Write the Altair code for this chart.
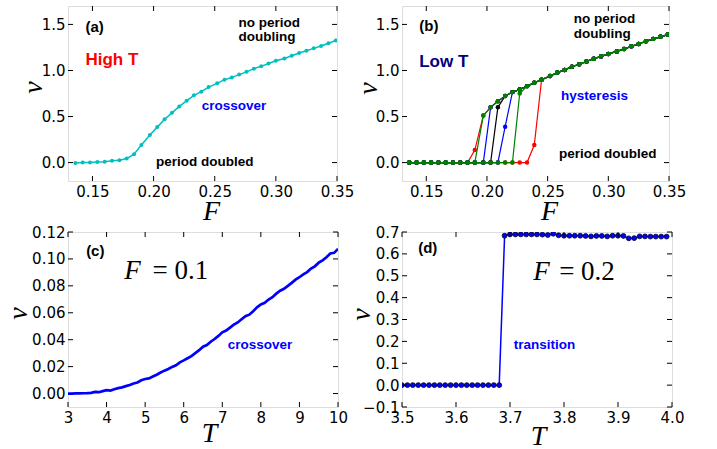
import altair as alt
import pandas as pd

# ---------------- data ----------------
F_GRID = [0.136, 0.142, 0.148, 0.154, 0.160, 0.166, 0.172, 0.178, 0.184, 0.190,
          0.197, 0.203, 0.209, 0.215, 0.221, 0.227, 0.233, 0.239, 0.245, 0.252,
          0.258, 0.264, 0.270, 0.276, 0.282, 0.288, 0.294, 0.300, 0.307, 0.313,
          0.319, 0.325, 0.331, 0.337, 0.343, 0.349]

# (a) high T
V_A = [-0.005, 0.0, 0.0, 0.005, 0.01, 0.02, 0.025, 0.045, 0.09, 0.19,
       0.30, 0.385, 0.47, 0.54, 0.61, 0.67, 0.73, 0.77, 0.82, 0.86,
       0.90, 0.925, 0.955, 0.985, 1.02, 1.045, 1.075, 1.105, 1.13, 1.16,
       1.19, 1.215, 1.24, 1.265, 1.295, 1.325]

# (b) low T : upper (running) branch for F_GRID[10:]
V_B_UPPER = [0.51, 0.60, 0.666, 0.724, 0.765, 0.794, 0.83, 0.867, 0.90, 0.94,
             0.977, 1.006, 1.04, 1.068, 1.097, 1.127, 1.153, 1.18, 1.207, 1.233,
             1.262, 1.288, 1.317, 1.343, 1.365, 1.39]
# sweeps: colour, name, last index on v=0 branch, transition values, first index on upper branch
B_SWEEPS = [
    ("red", "red up", 16, [0.19], 18),
    ("red", "red down", 8, [0.136], 10),
    ("blue", "blue up", 12, [0.39], 14),
    ("blue", "blue down", 10, [], 11),
    ("black", "black", 11, [0.60], 13),
    ("green", "green up", 14, [0.75], 16),
    ("green", "green down", 9, [], 10),
]
B_COLOURS = {"red": "#FF0000", "blue": "#0000FF", "black": "#000000", "green": "#008000"}

# (c) F = 0.1
T_C = [3.0, 3.1, 3.2, 3.3, 3.4, 3.5, 3.6, 3.7, 3.8, 3.9,
       4.0, 4.1, 4.2, 4.3, 4.4, 4.5, 4.6, 4.7, 4.8, 4.9,
       5.0, 5.1, 5.2, 5.3, 5.4, 5.5, 5.6, 5.7, 5.8, 5.9,
       6.0, 6.1, 6.2, 6.3, 6.4, 6.5, 6.6, 6.7, 6.8, 6.9,
       7.0, 7.1, 7.2, 7.3, 7.4, 7.5, 7.6, 7.7, 7.8, 7.9,
       8.0, 8.1, 8.2, 8.3, 8.4, 8.5, 8.6, 8.7, 8.8, 8.9,
       9.0, 9.1, 9.2, 9.3, 9.4, 9.5, 9.6, 9.7, 9.8, 9.9, 10.0]
V_C = [0.0000, 0.0000, 0.0001, 0.0001, 0.0002, 0.0003, 0.0005, 0.0012, 0.0010, 0.0018,
       0.0025, 0.0022, 0.0032, 0.0040, 0.0046, 0.0055, 0.0064, 0.0075, 0.0082, 0.0098,
       0.0108, 0.0112, 0.0126, 0.0140, 0.0156, 0.0170, 0.0182, 0.0198, 0.0210, 0.0232,
       0.0246, 0.0262, 0.0278, 0.0300, 0.0322, 0.0348, 0.0360, 0.0385, 0.0405, 0.0428,
       0.0455, 0.0468, 0.0490, 0.0512, 0.0528, 0.0552, 0.0575, 0.0586, 0.0612, 0.0640,
       0.0662, 0.0674, 0.0698, 0.0716, 0.0742, 0.0764, 0.0778, 0.0800, 0.0822, 0.0846,
       0.0864, 0.0885, 0.0902, 0.0928, 0.0945, 0.0972, 0.0990, 0.1012, 0.1040, 0.1045, 0.1075]

# (d) F = 0.2
T_D = [3.50, 3.51, 3.52, 3.53, 3.54, 3.55, 3.56, 3.57, 3.58, 3.59,
       3.60, 3.61, 3.62, 3.63, 3.64, 3.65, 3.66, 3.67, 3.68, 3.69,
       3.70, 3.71, 3.72, 3.73, 3.74, 3.75, 3.76, 3.77, 3.78, 3.79,
       3.80, 3.81, 3.82, 3.83, 3.84, 3.85, 3.86, 3.87, 3.88, 3.89,
       3.90, 3.91, 3.92, 3.93, 3.94, 3.95, 3.96, 3.97, 3.98, 3.99]
V_D = [0.0, 0.0, 0.0, 0.0, 0.0, 0.0, 0.0, 0.0, 0.0, 0.0,
       0.0, 0.0, 0.0, 0.0, 0.0, 0.0, 0.0, 0.0, 0.0, 0.683,
       0.689, 0.689, 0.689, 0.689, 0.689, 0.689, 0.688, 0.686, 0.692, 0.685,
       0.683, 0.683, 0.683, 0.683, 0.682, 0.680, 0.682, 0.682, 0.680, 0.683,
       0.683, 0.682, 0.671, 0.672, 0.680, 0.680, 0.679, 0.679, 0.679, 0.679]

# tick values
XT_AB = [0.15, 0.20, 0.25, 0.30, 0.35]
YT_AB = [0.0, 0.5, 1.0, 1.5]
XT_C = [3, 4, 5, 6, 7, 8, 9, 10]
YT_C = [0.0, 0.02, 0.04, 0.06, 0.08, 0.10, 0.12]
XT_D = [3.5, 3.6, 3.7, 3.8, 3.9, 4.0]
YT_D = [-0.1, 0.0, 0.1, 0.2, 0.3, 0.4, 0.5, 0.6, 0.7]

# ---------------- styling helpers ----------------
LABEL_FONT = "DejaVu Sans"
SERIF = "Liberation Serif"
ANN_FONT = "Liberation Sans"
TICK_LEN = 5


def make_enc(xdom, ydom, xticks, yticks, xfmt, yfmt, xtitle, ytitle, xtpos, ytpos):
    xs = alt.Scale(domain=xdom, nice=False, zero=False)
    ys = alt.Scale(domain=ydom, nice=False, zero=False)
    common = dict(domain=False, ticks=False, grid=False, labelFont=LABEL_FONT,
                  labelFontSize=15, labelColor="black", labelFlush=False,
                  labelOverlap=False, labelPadding=3, titleFont=SERIF,
                  titleFontSize=28, titleFontStyle="italic", titleFontWeight="normal",
                  titleColor="black", titleAlign="center")
    xa = alt.Axis(values=xticks, format=xfmt, title=xtitle, titleX=xtpos[0],
                  titleY=xtpos[1], titleBaseline="alphabetic", **common)
    ya = alt.Axis(values=yticks, format=yfmt, title=ytitle, titleX=ytpos[0],
                  titleY=ytpos[1], titleBaseline="middle", titleAngle=270, **common)

    def X(field):
        return alt.X(field, type="quantitative", scale=xs, axis=xa)

    def Y(field):
        return alt.Y(field, type="quantitative", scale=ys, axis=ya)
    return X, Y


def inward_ticks(X, Y, xticks, yticks, w, h):
    xdf = pd.DataFrame({"tx": xticks})
    ydf = pd.DataFrame({"ty": yticks})
    rule = dict(color="black", strokeWidth=1)
    return [
        alt.Chart(ydf).mark_rule(**rule).encode(y=Y("ty"), x=alt.value(0), x2=alt.value(TICK_LEN)),
        alt.Chart(ydf).mark_rule(**rule).encode(y=Y("ty"), x=alt.value(w - TICK_LEN), x2=alt.value(w)),
        alt.Chart(xdf).mark_rule(**rule).encode(x=X("tx"), y=alt.value(h - TICK_LEN), y2=alt.value(h)),
        alt.Chart(xdf).mark_rule(**rule).encode(x=X("tx"), y=alt.value(0), y2=alt.value(TICK_LEN)),
    ]


def ann(rows, X, Y, color="black", size=13.5, font=ANN_FONT, weight="bold", style="normal"):
    df = pd.DataFrame(rows, columns=["label", "x", "y"])
    return alt.Chart(df).mark_text(align="left", baseline="alphabetic", color=color,
                                   fontSize=size, font=font, fontWeight=weight,
                                   fontStyle=style).encode(x=X("x"), y=Y("y"), text="label:N")


H = 175

# ---------------- panel (a) ----------------
WA = 269
Xa, Ya = make_enc([0.13, 0.35], [-0.2, 1.7], XT_AB, YT_AB, ".2f", ".1f", "F", "v",
                  (143, 38), (-35, 81))
df_a = pd.DataFrame({"F": F_GRID, "v": V_A})
a_line = alt.Chart(df_a).mark_line(color="#00BFBF", strokeWidth=1.5, clip=True).encode(x=Xa("F"), y=Ya("v"))
a_pts = alt.Chart(df_a).mark_point(filled=True, color="#00BFBF", size=16, opacity=1, clip=True).encode(x=Xa("F"), y=Ya("v"))
panel_a = alt.layer(
    a_line, a_pts,
    ann([("(a)", 0.1443, 1.413)], Xa, Ya, size=15),
    ann([("no period", 0.2695, 1.475), ("doubling", 0.2695, 1.32),
         ("period doubled", 0.202, -0.036)], Xa, Ya),
    ann([("High T", 0.1443, 1.061)], Xa, Ya, color="#FF0000", size=17),
    ann([("crossover", 0.2394, 0.576)], Xa, Ya, color="#0000FF"),
    *inward_ticks(Xa, Ya, XT_AB, YT_AB, WA, H),
).properties(width=WA, height=H)

# ---------------- panel (b) ----------------
WB = 267
Xb, Yb = make_enc([0.13, 0.35], [-0.2, 1.7], XT_AB, YT_AB, ".2f", ".1f", "F", "v",
                  (147, 38), (-34, 82))
rows_b = []
for colour, name, z, trans, u in B_SWEEPS:
    vals = [0.0] * (z + 1) + trans + V_B_UPPER[u - 10:]
    for i, v in enumerate(vals):
        rows_b.append({"F": F_GRID[i], "v": v, "sweep": name, "colour": colour, "i": i})
df_b = pd.DataFrame(rows_b)
b_layers = []
for colour in ["red", "blue", "black", "green"]:
    sub = df_b[df_b["colour"] == colour]
    b_layers.append(alt.Chart(sub).mark_line(color=B_COLOURS[colour], strokeWidth=1.2, clip=True).encode(
        x=Xb("F"), y=Yb("v"), detail="sweep:N", order="i:Q"))
    b_layers.append(alt.Chart(sub).mark_point(filled=True, color=B_COLOURS[colour], size=20, opacity=1, clip=True).encode(
        x=Xb("F"), y=Yb("v")))
panel_b = alt.layer(
    *b_layers,
    ann([("(b)", 0.1442, 1.427)], Xb, Yb, size=15),
    ann([("no period", 0.2716, 1.511), ("doubling", 0.2716, 1.354),
         ("period doubled", 0.2593, 0.055)], Xb, Yb),
    ann([("Low T", 0.1442, 1.043)], Xb, Yb, color="#000080", size=17),
    ann([("hysteresis", 0.2611, 0.677)], Xb, Yb, color="#0000FF"),
    *inward_ticks(Xb, Yb, XT_AB, YT_AB, WB, H),
).properties(width=WB, height=H)

# ---------------- panel (c) ----------------
WC = 270
Xc, Yc = make_enc([3, 10], [-0.01, 0.12], XT_C, YT_C, "d", ".2f", "T", "v",
                  (141, 34), (-50, 81))
df_c = pd.DataFrame({"T": T_C, "v": V_C})
panel_c = alt.layer(
    alt.Chart(df_c).mark_line(color="#0000FF", strokeWidth=2.7, clip=True).encode(x=Xc("T"), y=Yc("v")),
    ann([("(c)", 3.47, 0.102)], Xc, Yc, size=15),
    ann([("F", 4.46, 0.085)], Xc, Yc, size=27, font=SERIF, weight="normal", style="italic"),
    ann([("= 0.1", 5.19, 0.085)], Xc, Yc, size=27, font=SERIF, weight="normal"),
    ann([("crossover", 7.14, 0.0333)], Xc, Yc, color="#0000FF"),
    *inward_ticks(Xc, Yc, XT_C, YT_C, WC, H),
).properties(width=WC, height=H)

# ---------------- panel (d) ----------------
WD = 270
Xd, Yd = make_enc([3.5, 4.0], [-0.1, 0.7], XT_D, YT_D, ".1f", ".1f", "T", "v",
                  (136, 37), (-41, 82))
df_d = pd.DataFrame({"T": T_D, "v": V_D})
panel_d = alt.layer(
    alt.Chart(df_d).mark_line(color="#0000FF", strokeWidth=1.5, clip=True).encode(x=Xd("T"), y=Yd("v")),
    alt.Chart(df_d).mark_point(filled=True, color="#0000FF", size=24, opacity=1, stroke="#000022",
                               strokeWidth=0.8, clip=True).encode(x=Xd("T"), y=Yd("v")),
    ann([("(d)", 3.530, 0.605)], Xd, Yd, size=15),
    ann([("F", 3.743, 0.479)], Xd, Yd, size=27, font=SERIF, weight="normal", style="italic"),
    ann([("= 0.2", 3.791, 0.479)], Xd, Yd, size=27, font=SERIF, weight="normal"),
    ann([("transition", 3.707, 0.163)], Xd, Yd, color="#0000FF"),
    *inward_ticks(Xd, Yd, XT_D, YT_D, WD, H),
).properties(width=WD, height=H)

chart = alt.concat(panel_a, panel_b, panel_c, panel_d, columns=2,
                   spacing=alt.RowColnumber(row=51, column=64), bounds="flush").properties(
    padding={"left": 3, "top": 5, "right": 0, "bottom": 0}
).configure_view(stroke="black", strokeWidth=1.2).configure(background="white")

chart.save("out.html", embed_options={"renderer": "svg", "actions": False})
